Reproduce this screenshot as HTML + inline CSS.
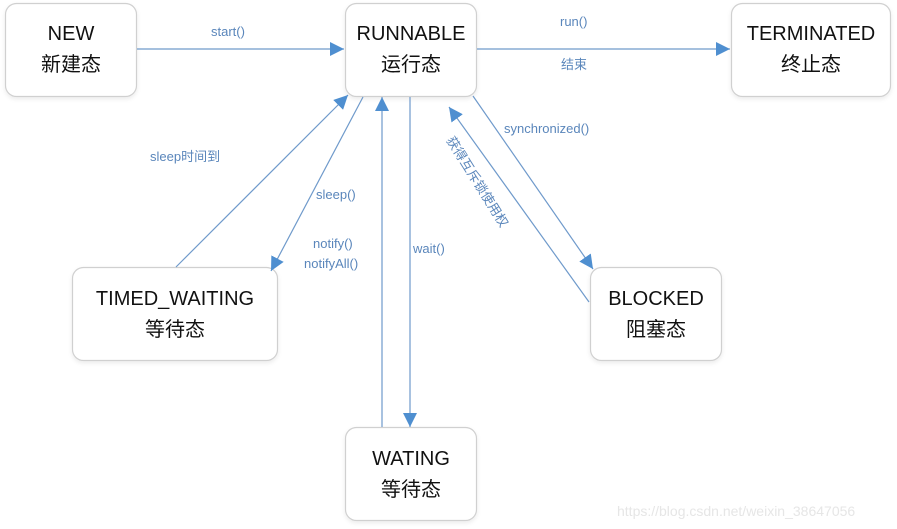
<!DOCTYPE html>
<html><head><meta charset="utf-8"><style>
html,body{margin:0;padding:0;background:#fff;width:897px;height:529px;overflow:hidden}
svg{display:block}
.box{fill:#fff;stroke:#d0d0d0;stroke-width:1.2}
.t{font-family:"Liberation Sans","Noto Sans CJK SC",sans-serif;font-size:20px;fill:#111;text-anchor:middle}
.l{font-family:"Liberation Sans","Noto Sans CJK SC",sans-serif;font-size:13px;fill:#5a86bb}
.ln{stroke:#6f9acb;stroke-width:1.2;fill:none}
</style></head><body>
<svg width="897" height="529" viewBox="0 0 897 529" xmlns="http://www.w3.org/2000/svg">
<defs>
<filter id="sh" x="-10%" y="-10%" width="120%" height="130%"><feDropShadow dx="0" dy="2" stdDeviation="2" flood-color="#000" flood-opacity="0.08"/></filter>
<marker id="a" viewBox="0 0 10 10" refX="10" refY="5" markerWidth="14" markerHeight="14" markerUnits="userSpaceOnUse" orient="auto"><path d="M0,0 L10,5 L0,10 z" fill="#4f8fd0"/></marker>
</defs>
<!-- boxes -->
<rect class="box" filter="url(#sh)" x="5.5" y="3.5" width="131" height="93" rx="11"/>
<rect class="box" filter="url(#sh)" x="345.5" y="3.5" width="131" height="93" rx="11"/>
<rect class="box" filter="url(#sh)" x="731.5" y="3.5" width="159" height="93" rx="11"/>
<rect class="box" filter="url(#sh)" x="72.5" y="267.5" width="205" height="93" rx="11"/>
<rect class="box" filter="url(#sh)" x="590.5" y="267.5" width="131" height="93" rx="11"/>
<rect class="box" filter="url(#sh)" x="345.5" y="427.5" width="131" height="93" rx="11"/>
<text class="t" x="71" y="40">NEW</text><text class="t" x="71" y="71">新建态</text>
<text class="t" x="411" y="40">RUNNABLE</text><text class="t" x="411" y="71">运行态</text>
<text class="t" x="811" y="40">TERMINATED</text><text class="t" x="811" y="71">终止态</text>
<text class="t" x="175" y="305">TIMED_WAITING</text><text class="t" x="175" y="336">等待态</text>
<text class="t" x="656" y="305">BLOCKED</text><text class="t" x="656" y="336">阻塞态</text>
<text class="t" x="411" y="465">WATING</text><text class="t" x="411" y="496">等待态</text>
<!-- lines -->
<line class="ln" x1="137" y1="49" x2="344" y2="49" marker-end="url(#a)"/>
<line class="ln" x1="477" y1="49" x2="730" y2="49" marker-end="url(#a)"/>
<line class="ln" x1="176" y1="267" x2="348" y2="95" marker-end="url(#a)"/>
<line class="ln" x1="363" y1="97" x2="271" y2="271" marker-end="url(#a)"/>
<line class="ln" x1="382" y1="427" x2="382" y2="97" marker-end="url(#a)"/>
<line class="ln" x1="410" y1="97" x2="410" y2="427" marker-end="url(#a)"/>
<line class="ln" x1="473" y1="96" x2="593" y2="269" marker-end="url(#a)"/>
<line class="ln" x1="589" y1="302" x2="449" y2="107" marker-end="url(#a)"/>
<!-- labels -->
<text class="l" x="211" y="36">start()</text>
<text class="l" x="560" y="26">run()</text>
<text class="l" x="561" y="69">结束</text>
<text class="l" x="150" y="161">sleep时间到</text>
<text class="l" x="316" y="199">sleep()</text>
<text class="l" x="313" y="248">notify()</text>
<text class="l" x="304" y="268">notifyAll()</text>
<text class="l" x="413" y="253">wait()</text>
<text class="l" x="504" y="133">synchronized()</text>
<text class="l" transform="translate(446,140) rotate(58)">获得互斥锁使用权</text>
<text x="617" y="516" style="font-family:'Liberation Sans',sans-serif;font-size:14px;fill:#e6e6e6">https://blog.csdn.net/weixin_38647056</text>
</svg>
</body></html>
